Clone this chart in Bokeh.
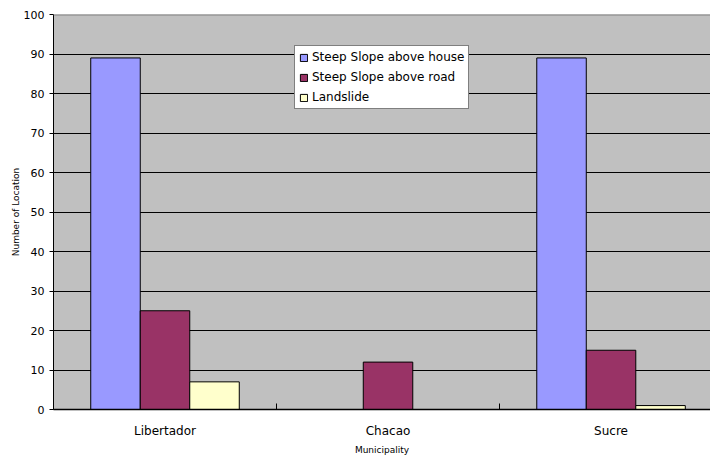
from bokeh.plotting import figure
from bokeh.models import ColumnDataSource, Range1d, FixedTicker, Legend, LegendItem, Span
from bokeh.transform import dodge
from bokeh.embed import file_html
from bokeh.resources import INLINE

municipalities = ["Libertador", "Chacao", "Sucre"]
steep_house = [89, 0, 89]
steep_road = [25, 12, 15]
landslide = [7, 0, 1]
series_names = ["Steep Slope above house", "Steep Slope above road", "Landslide"]
colors = ["#9999FF", "#993366", "#FFFFCC"]

FONT = "DejaVu Sans"

xpos = [i + 0.5 for i in range(len(municipalities))]
src = ColumnDataSource(dict(x=xpos, house=steep_house, road=steep_road, land=landslide))

p = figure(width=710, height=457, output_backend="svg", toolbar_location=None,
           x_range=Range1d(0, 2.946), y_range=Range1d(0, 100),
           min_border_left=53, min_border_right=0, min_border_top=14, min_border_bottom=47)
p.border_fill_color = "white"
p.outline_line_color = None
p.background_fill_color = "#C0C0C0"

bw = 0.222
r1 = p.vbar(x=dodge("x", -bw, range=p.x_range), top="house", width=bw, source=src,
            fill_color=colors[0], line_color="black", line_width=1)
r2 = p.vbar(x=dodge("x", 0, range=p.x_range), top="road", width=bw, source=src,
            fill_color=colors[1], line_color="black", line_width=1)
r3 = p.vbar(x=dodge("x", bw, range=p.x_range), top="land", width=bw, source=src,
            fill_color=colors[2], line_color="black", line_width=1)

# grid
p.xgrid.grid_line_color = None
p.ygrid.ticker = FixedTicker(ticks=list(range(0, 101, 10)))
p.ygrid.grid_line_color = "black"
p.ygrid.grid_line_width = 1
p.ygrid.level = "underlay"

top = Span(location=100, dimension="width", line_color="#808080", line_width=2)
p.add_layout(top)

# y axis
p.yaxis.ticker = FixedTicker(ticks=list(range(0, 101, 10)))
p.yaxis.axis_line_color = "black"
p.yaxis.major_tick_line_color = "black"
p.yaxis.major_tick_out = 4
p.yaxis.major_tick_in = 0
p.yaxis.minor_tick_line_color = None
p.yaxis.major_label_text_font = FONT
p.yaxis.major_label_text_font_size = "11px"
p.yaxis.major_label_text_color = "black"
p.yaxis.major_label_standoff = 5
p.yaxis.axis_label = "Number of Location"
p.yaxis.axis_label_text_font = FONT
p.yaxis.axis_label_text_font_size = "9px"
p.yaxis.axis_label_text_font_style = "normal"
p.yaxis.axis_label_text_color = "black"
p.yaxis.axis_label_standoff = 0

# x axis
p.xaxis.ticker = FixedTicker(ticks=xpos, minor_ticks=[0, 1, 2, 3])
p.xaxis.major_label_overrides = {x: m for x, m in zip(xpos, municipalities)}
p.xaxis.axis_line_color = "black"
p.xaxis.axis_line_width = 1.5
p.xaxis.major_tick_line_color = None
p.xaxis.major_tick_in = 0
p.xaxis.major_tick_out = 0
p.xaxis.minor_tick_line_color = "black"
p.xaxis.minor_tick_in = 6
p.xaxis.minor_tick_out = 0
p.xaxis.major_label_text_font = FONT
p.xaxis.major_label_text_font_size = "12px"
p.xaxis.major_label_text_color = "black"
p.xaxis.major_label_standoff = 14
p.xaxis.axis_label = "Municipality"
p.xaxis.axis_label_text_font = FONT
p.xaxis.axis_label_text_font_size = "9px"
p.xaxis.axis_label_text_font_style = "normal"
p.xaxis.axis_label_text_color = "black"
p.xaxis.axis_label_standoff = 4

legend = Legend(items=[LegendItem(label=series_names[0], renderers=[r1]),
                       LegendItem(label=series_names[1], renderers=[r2]),
                       LegendItem(label=series_names[2], renderers=[r3])],
                location=(241, 300))
legend.label_text_font = FONT
legend.label_text_font_size = "12px"
legend.label_text_color = "black"
legend.glyph_width = 9
legend.glyph_height = 9
legend.label_height = 14
legend.spacing = 6
legend.padding = 4
legend.margin = 0
legend.label_standoff = 4
legend.border_line_color = "black"
legend.border_line_width = 1
legend.background_fill_color = "white"
legend.background_fill_alpha = 1
p.add_layout(legend)

open("out.html", "w").write(file_html(p, INLINE))
